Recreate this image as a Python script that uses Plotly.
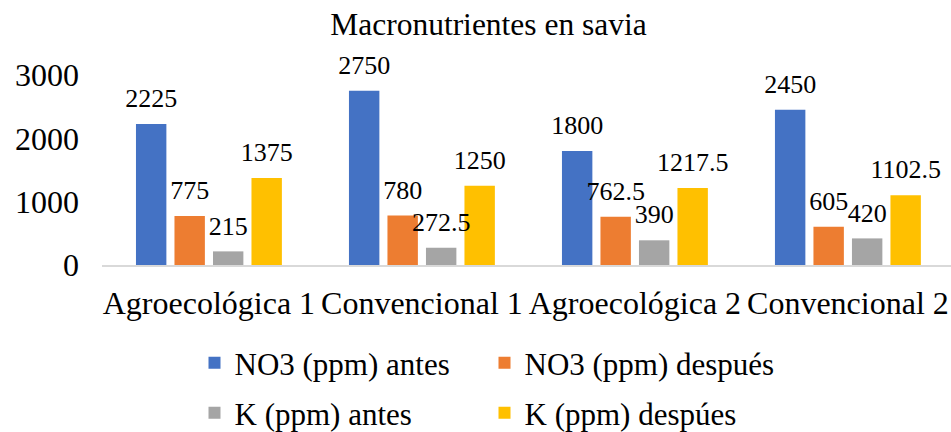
import plotly.graph_objects as go

categories = ["Agroecológica 1", "Convencional 1", "Agroecológica 2", "Convencional 2"]
series_names = ["NO3 (ppm) antes", "NO3 (ppm) después", "K (ppm) antes", "K (ppm) despúes"]
no3_antes = [2225, 2750, 1800, 2450]
no3_despues = [775, 780, 762.5, 605]
k_antes = [215, 272.5, 390, 420]
k_despues = [1375, 1250, 1217.5, 1102.5]
y_ticks = [0, 1000, 2000, 3000]

series_values = [no3_antes, no3_despues, k_antes, k_despues]
colors = ["#4472C4", "#ED7D31", "#A5A5A5", "#FFC000"]
legend_ids = ["legend", "legend", "legend2", "legend2"]

FONT = "Liberation Serif"

fig = go.Figure()
for name, vals, col, lg in zip(series_names, series_values, colors, legend_ids):
    fig.add_trace(go.Bar(
        x=categories, y=vals, name=name, marker_color=col,
        marker_line_width=0, offsetgroup=name, legend=lg,
    ))
for name, vals in zip(series_names, series_values):
    fig.add_trace(go.Scatter(
        x=categories, y=vals, mode="markers+text",
        marker=dict(size=15, opacity=0, color="white"),
        text=[f"{v:g}" for v in vals], textposition="top center",
        textfont=dict(family=FONT, size=26, color="#000000"),
        offsetgroup=name, showlegend=False, hoverinfo="skip", cliponaxis=False,
    ))

fig.update_layout(
    width=951, height=432,
    margin=dict(l=102, r=0, t=75, b=167),
    paper_bgcolor="white", plot_bgcolor="white",
    barmode="group", bargap=0.277, bargroupgap=0.21,
    scattermode="group", scattergap=0.277,
    font=dict(family=FONT, color="#000000"),
    title=dict(text="Macronutrientes en savia", x=488.5 / 951, xanchor="center",
               xref="container", yref="container", y=1 - 24 / 432, yanchor="middle",
               font=dict(size=31.5, family=FONT, color="#000000")),
    xaxis=dict(range=[-0.502, 3.484], showgrid=False, showline=True, linecolor="#D9D9D9",
               linewidth=1.5, tickangle=0, ticks="", ticklabelstandoff=9,
               tickfont=dict(size=32, family=FONT, color="#000000")),
    yaxis=dict(range=[0, 3000], tickvals=y_ticks, showgrid=False, showline=False,
               zeroline=False, ticks="", ticklabelstandoff=22,
               tickfont=dict(size=32, family=FONT, color="#000000")),
    legend=dict(orientation="h", xref="container", yref="container",
                x=194.5 / 951, xanchor="left", y=1 - 363 / 432, yanchor="middle",
                entrywidth=245, font=dict(size=31, family=FONT, color="#000000"),
                bgcolor="rgba(0,0,0,0)", tracegroupgap=0),
    legend2=dict(orientation="h", xref="container", yref="container",
                 x=194.5 / 951, xanchor="left", y=1 - 413 / 432, yanchor="middle",
                 entrywidth=245, font=dict(size=31, family=FONT, color="#000000"),
                 bgcolor="rgba(0,0,0,0)", tracegroupgap=0),
)

fig.write_html("out.html", config={"displayModeBar": False},
               post_script="document.body.style.margin='0px';")
